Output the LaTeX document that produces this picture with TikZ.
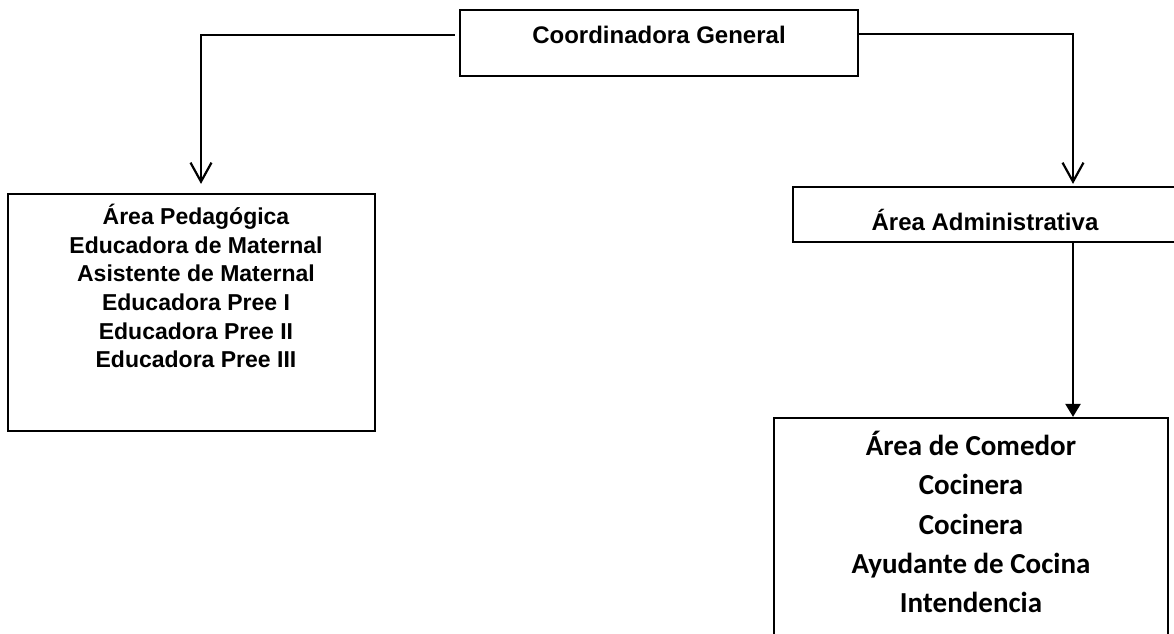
\documentclass[tikz,border=0pt]{standalone}
\usepackage{fontspec}
\setmainfont{Liberation Sans}
\newfontfamily\calibrifont{Carlito}
\usetikzlibrary{arrows.meta}

\begin{document}
\begin{tikzpicture}[x=1pt,y=-1pt,
    caja/.style={draw,line width=2.2pt,inner sep=0pt},
    barb/.style={line width=2.2pt,-{Straight Barb[length=19pt,width=21pt]}},
    tri/.style={line width=2.2pt,-{Triangle[length=13pt,width=15pt]}}]
    %%%%% START %%%%%
    \useasboundingbox (0,0) rectangle (1174,633);
    \clip (0,0) rectangle (1174,633);

    \node[caja,minimum width=398pt,minimum height=66pt,text height=16pt,text depth=16pt,
        font=\fontsize{24}{28}\selectfont\bfseries] (coord) at (659,43) {Coordinadora General};

    \node[caja,minimum width=367pt,minimum height=237pt] (pedag) at (191.5,312.5) {};
    \node[align=center,font=\fontsize{23}{28.7}\selectfont\bfseries] (pedagtxt) at (196,286)
        {Área Pedagógica\\Educadora de Maternal\\Asistente de Maternal\\Educadora Pree I\\Educadora Pree II\\Educadora Pree III};

    \node[caja,minimum width=384pt,minimum height=55pt,text height=31pt,text depth=0pt,
        font=\fontsize{24}{28}\selectfont\bfseries] (admin) at (985,214.5) {Área Administrativa};

    \node[caja,minimum width=394pt,minimum height=260pt] (comedor) at (971,548) {};
    \node[align=center,font=\calibrifont\fontsize{29}{39.4}\selectfont\bfseries] (comedortxt) at (971,522)
        {Área de Comedor\\Cocinera\\Cocinera\\Ayudante de Cocina\\Intendencia};

    \draw[barb,shorten <=4pt,shorten >=9pt] ([yshift=8pt]coord.west) -| ([xshift=9.5pt]pedag.north);
    \draw[barb,shorten >=2pt] ([yshift=9pt]coord.east) -| ([xshift=88pt]admin.north);
    \draw[tri] ([xshift=88pt]admin.south) -- ([xshift=102pt]comedor.north);
    %%%%% END %%%%%
\end{tikzpicture}
\end{document}
